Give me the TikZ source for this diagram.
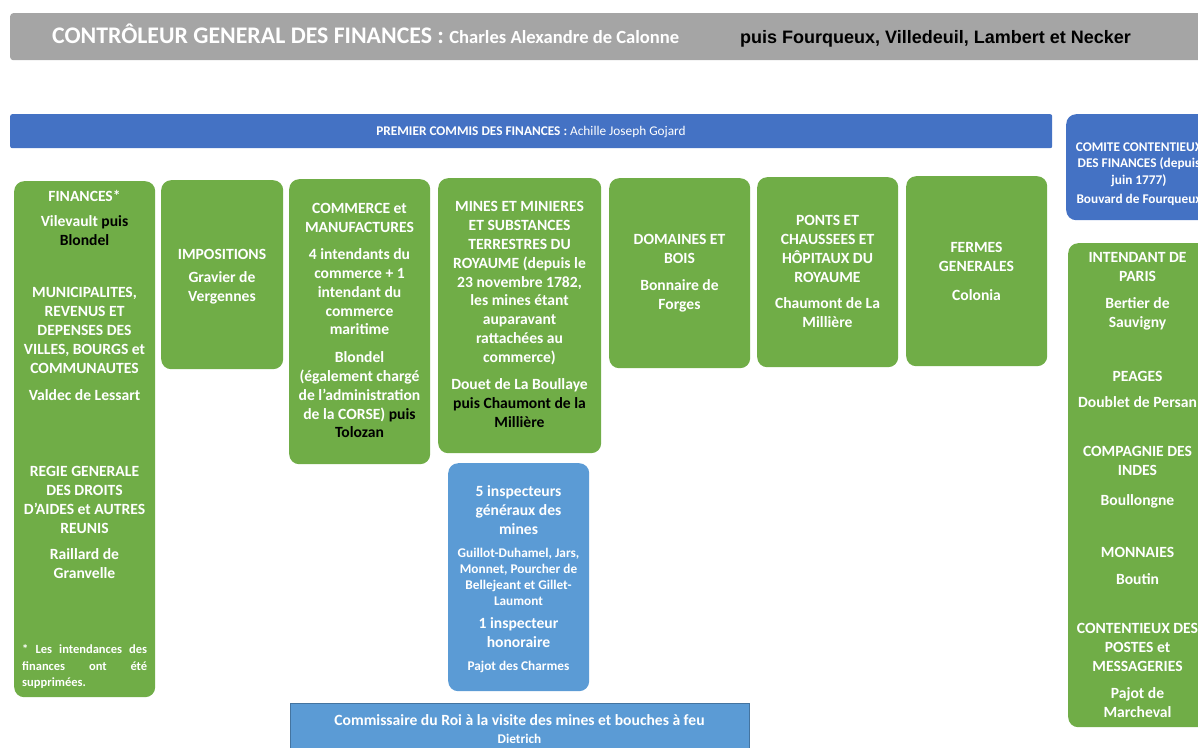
\documentclass[tikz,border=0pt]{standalone}
\usepackage{fontspec}
\setmainfont{Carlito}
\newfontfamily\arialfont{Liberation Sans}

\definecolor{grn}{HTML}{70AD47}
\definecolor{dblue}{HTML}{4472C4}
\definecolor{lblue}{HTML}{5B9BD5}
\definecolor{greybar}{HTML}{A5A5A5}

\begin{document}
\begin{tikzpicture}[x=1pt,y=-1pt,
    box/.style={anchor=north west,inner sep=0pt,rounded corners=10pt},
    hd/.style={text=white,font=\bfseries\fontsize{15.6}{18.8}\selectfont,align=center,inner sep=0pt,anchor=north,yshift=-4pt,execute at begin node=\strut},
    sm/.style={hd,font=\bfseries\fontsize{13.3}{16.2}\selectfont}]
    \useasboundingbox (0,0) rectangle (1198,747);
    \clip (0,0) rectangle (1198,747);

    % title bar
    \node[box,rounded corners=3pt,fill=greybar,minimum width=1200,minimum height=47] (cgf) at (10,13) {};
    \node[anchor=base west,inner sep=0pt,text=white,font=\bfseries\fontsize{23.8}{26}\selectfont] (cgf-t) at (52,43)
        {CONTRÔLEUR GENERAL DES FINANCES : {\fontsize{18.6}{20}\selectfont Charles Alexandre de Calonne}};
    \node[anchor=base west,inner sep=0pt,font=\arialfont\bfseries\fontsize{18}{20}\selectfont] (cgf-s) at (740,43)
        {puis Fourqueux, Villedeuil, Lambert et Necker};

    % premier commis
    \node[box,rounded corners=2pt,fill=dblue,minimum width=1042,minimum height=34] (pc) at (10,114) {};
    \node[anchor=base,inner sep=0pt,text=white,font=\fontsize{13.3}{15}\selectfont] (pc-t) at (531,135)
        {\textbf{PREMIER COMMIS DES FINANCES :} Achille Joseph Gojard};

    % the boxes
    \foreach \n/\x/\y/\w/\h/\c in {fin/14/181/141/516/grn,imp/161/180/122/189/grn,com/289/179/141/285/grn,
        min/438/178/163/275/grn,dom/609/178/141/190/grn,pon/757/177/141/190/grn,fer/906/176/141/190/grn,
        par/1068/243/141/484/grn,insp/448/463/141/228/lblue,cc/1066/114/146/106/dblue}
        \node[box,fill=\c,minimum width=\w,minimum height=\h] (\n) at (\x,\y) {};
    \node[box,rounded corners=0pt,fill=lblue,draw=lblue!75!black,line width=0.6pt,minimum width=459,minimum height=60] (com-roi) at (290,703) {};

    % finances
    \node[hd] (fin-1) at (84.5,184.5) {FINANCES*};
    \node[hd] (fin-2) at (84.5,211.5) {Vilevault \textcolor{black}{puis}\\\textcolor{black}{Blondel}};
    \node[hd] (fin-3) at (84.5,283.5) {MUNICIPALITES,\\REVENUS ET\\DEPENSES DES\\VILLES, BOURGS et\\COMMUNAUTES};
    \node[hd] (fin-4) at (84.5,383.5) {Valdec de Lessart};
    \node[hd] (fin-5) at (84.5,462.5) {REGIE GENERALE\\DES DROITS\\D’AIDES et AUTRES\\REUNIS};
    \node[hd] (fin-6) at (84.5,544.5) {Raillard de\\Granvelle};
    \node[sm,font=\bfseries\fontsize{12.5}{16.5}\selectfont,anchor=north west,align=left] (fin-n) at (22,640.7)
        {\makebox[125pt][s]{* Les intendances des}\\\makebox[125pt][s]{finances ont été}\\supprimées.};

    % impositions
    \node[hd] (imp-1) at (222,242.5) {IMPOSITIONS};
    \node[hd] (imp-2) at (222,267.5) {Gravier de\\Vergennes};

    % commerce
    \node[hd] (com-1) at (359.5,199.5) {COMMERCE et\\MANUFACTURES};
    \node[hd] (com-2) at (359.5,244.5) {4 intendants du\\commerce + 1\\intendant du\\commerce\\maritime};
    \node[hd] (com-3) at (359.5,347.5) {Blondel\\(également chargé\\de l’administration\\de la CORSE) \textcolor{black}{puis}\\\textcolor{black}{Tolozan}};

    % mines
    \node[hd] (min-1) at (519.5,197.5) {MINES ET MINIERES\\ET SUBSTANCES\\TERRESTRES DU\\ROYAUME (depuis le\\23 novembre 1782,\\les mines étant\\auparavant\\rattachées au\\commerce)};
    \node[hd] (min-2) at (519.5,374.5) {Douet de La Boullaye\\\textcolor{black}{puis Chaumont de la}\\\textcolor{black}{Millière}};

    % domaines, ponts, fermes
    \node[hd] (dom-1) at (679.5,230.5) {DOMAINES ET\\BOIS};
    \node[hd] (dom-2) at (679.5,275.5) {Bonnaire de\\Forges};
    \node[hd] (pon-1) at (827.5,211.5) {PONTS ET\\CHAUSSEES ET\\HÔPITAUX DU\\ROYAUME};
    \node[hd] (pon-2) at (827.5,293.5) {Chaumont de La\\Millière};
    \node[hd] (fer-1) at (976.5,238.5) {FERMES\\GENERALES};
    \node[hd] (fer-2) at (976.5,283.5) {Colonia};

    % inspecteurs
    \node[hd] (insp-1) at (518.5,481.5) {5 inspecteurs\\généraux des\\mines};
    \node[sm] (insp-2) at (518.5,543.7) {Guillot-Duhamel, Jars,\\Monnet, Pourcher de\\Bellejeant et Gillet-\\Laumont};
    \node[hd] (insp-3) at (518.5,613.5) {1 inspecteur\\honoraire};
    \node[sm] (insp-4) at (518.5,655) {Pajot des Charmes};

    % commissaire du roi
    \node[hd] (roi-1) at (519.5,708.5) {Commissaire du Roi à la visite des mines et bouches à feu};
    \node[sm] (roi-2) at (519.5,728) {Dietrich};

    % comite contentieux
    \node[sm] (cc-1) at (1139,138.7) {COMITE CONTENTIEUX\\DES FINANCES (depuis\\juin 1777)};
    \node[sm] (cc-2) at (1139,188) {Bouvard de Fourqueux};

    % right column
    \node[hd] (par-1) at (1137.5,248.5) {INTENDANT DE\\PARIS};
    \node[hd] (par-2) at (1137.5,293.5) {Bertier de\\Sauvigny};
    \node[hd] (par-3) at (1137.5,364.5) {PEAGES};
    \node[hd] (par-4) at (1137.5,390.5) {Doublet de Persan};
    \node[hd] (par-5) at (1137.5,442.5) {COMPAGNIE DES\\INDES};
    \node[hd] (par-6) at (1137.5,488.5) {Boullongne};
    \node[hd] (par-7) at (1137.5,540.5) {MONNAIES};
    \node[hd] (par-8) at (1137.5,567.5) {Boutin};
    \node[hd] (par-9) at (1137.5,619.5) {CONTENTIEUX DES\\POSTES et\\MESSAGERIES};
    \node[hd] (par-10) at (1137.5,683.5) {Pajot de\\Marcheval};
\end{tikzpicture}
\end{document}
